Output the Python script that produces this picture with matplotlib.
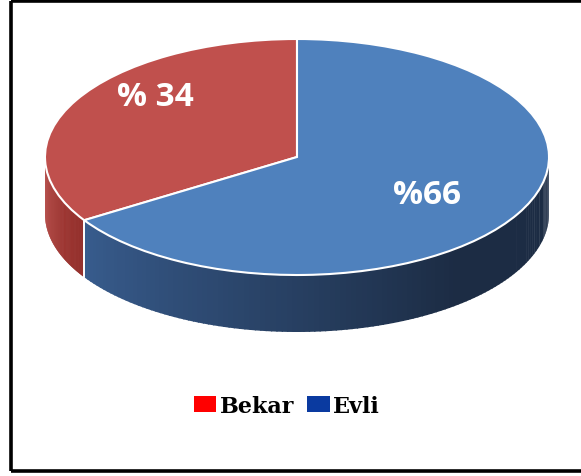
import numpy as np
import matplotlib.pyplot as plt
from matplotlib.patches import Patch
from matplotlib.lines import Line2D
from matplotlib.colors import to_rgb

# === Dados ===
categorias = ["Bekar", "Evli"]
valores = [34, 66]
rotulos = ["% 34", "%66"]
cores_topo = ["#c0504d", "#4f81bd"]
cores_legenda = ["#ff0000", "#0a3aa0"]

W, H = 581, 477
cx, cy, a, b = 297, 158, 252, 118   # elipse do topo em pixels
depth = 57 / b                      # altura do cilindro em unidades de dados

fig = plt.figure(figsize=(W / 100, H / 100), dpi=100)
ax = fig.add_axes([0, 0, 1, 1])

# === Faces laterais (com degradê) ===
lados = {
    0: (to_rgb("#b4423e"), to_rgb("#93302c")),
    1: (to_rgb("#416ca6"), to_rgb("#1c2c44")),
}
fracs = np.array(valores) / sum(valores)
inicio = 90.0
for i, f in enumerate(fracs):
    t1, t2 = inicio, inicio + f * 360
    inicio = t2
    lo, hi = max(t1, 180), min(t2, 360)
    if lo >= hi:
        continue
    c0, c1 = lados[i]
    n = 120
    ts = np.linspace(lo, hi, n + 1)
    for k in range(n):
        s = (0.5 * (ts[k] + ts[k + 1]) - 180) / 180
        s = min(1, s * 1.4) if i == 1 else (ts[k] - lo) / (hi - lo)
        cor = tuple(np.array(c0) * (1 - s) + np.array(c1) * s)
        tt = np.radians(np.linspace(ts[k], ts[k + 1] + 0.3, 4))
        xs = np.concatenate([np.cos(tt), np.cos(tt[::-1])])
        ys = np.concatenate([np.sin(tt), np.sin(tt[::-1]) - depth])
        ax.fill(xs, ys, color=cor, lw=0)
    # linha branca vertical na divisa
    for t in (t1, t2):
        if 180 < t < 360:
            r = np.radians(t)
            ax.plot([np.cos(r)] * 2, [np.sin(r), np.sin(r) - depth],
                    color="white", lw=1.2)

# === Topo da pizza ===
ax.pie(valores, colors=cores_topo, startangle=90, counterclock=True,
       radius=1, wedgeprops=dict(edgecolor="white", linewidth=1.5))
ax.set_aspect("auto")
ax.set_xlim((0 - cx) / a, (W - cx) / a)
ax.set_ylim((cy - H) / b, (cy - 0) / b)
ax.axis("off")

# === Rótulos ===
pos_rotulos = [(155, 97), (427, 195)]
for txt, (px, py) in zip(rotulos, pos_rotulos):
    fig.text(px / W, 1 - py / H, txt, color="white", fontsize=24,
             fontweight="bold", family="Open Sans", ha="center", va="center")

# === Legenda ===
handles = [Patch(facecolor=c, edgecolor="none") for c in cores_legenda]
fig.legend(handles, categorias, loc="center", bbox_to_anchor=(287 / W, 1 - 407 / H),
           ncol=2, frameon=False, handlelength=1.0, handleheight=0.75,
           handletextpad=0.15, columnspacing=0.6,
           prop=dict(family="DejaVu Serif", weight="bold", size=16))

# === Moldura (esquerda, topo e base) ===
xl, xr = 10.5 / W, 1.5
yt, yb = 1 - 1.5 / H, 1 - 471.5 / H
for xs, ys in [([xl, xl], [yb, yt]), ([xl, xr], [yt, yt]), ([xl, xr], [yb, yb])]:
    fig.lines.append(Line2D(xs, ys, transform=fig.transFigure,
                            color="black", lw=2.6, solid_capstyle="butt"))

fig.savefig("out.png", dpi=100, facecolor="white")
